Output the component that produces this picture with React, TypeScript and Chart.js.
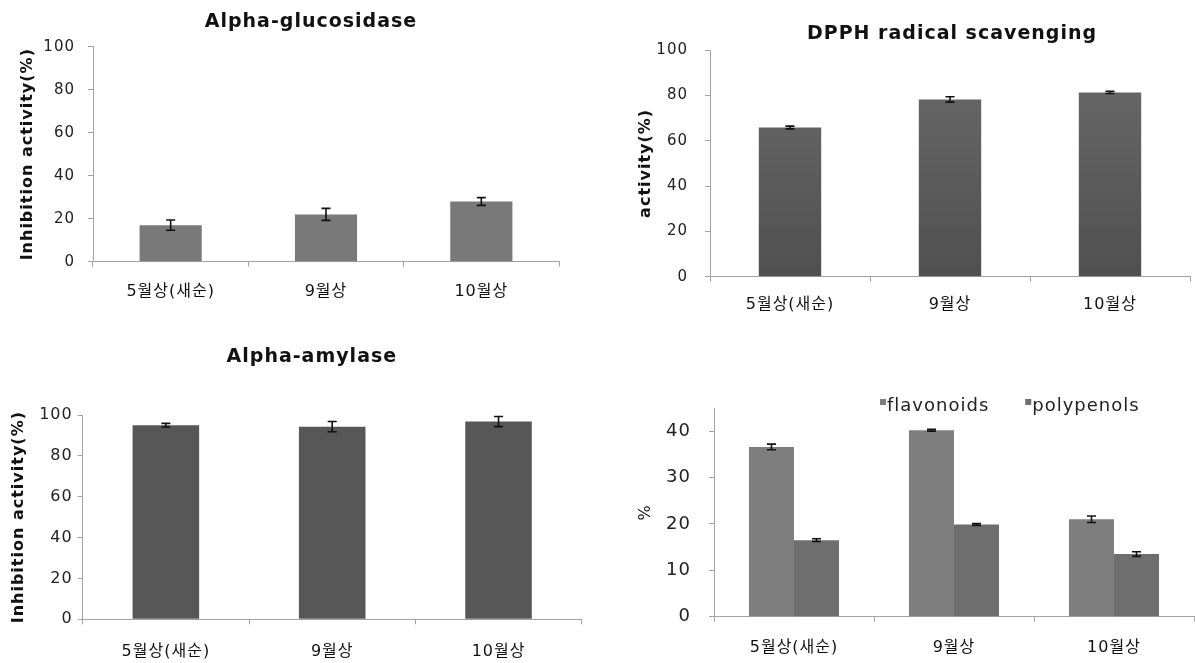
import React, { useEffect, useRef } from "react";
import { Chart, registerables } from "chart.js";

Chart.register(...registerables);

// ---------- data ----------
const categories = ["5월상(새순)", "9월상", "10월상"];

const glucosidaseValues = [17.0, 22.0, 28.0];
const glucosidaseErrors = [2.4, 2.8, 1.8];

const dpphValues = [65.8, 78.2, 81.3];
const dpphErrors = [0.6, 1.2, 0.5];

const amylaseValues = [95.0, 94.3, 96.8];
const amylaseErrors = [0.9, 2.5, 2.5];

const flavonoidValues = [36.6, 40.2, 21.0];
const flavonoidErrors = [0.6, 0.2, 0.7];
const polyphenolValues = [16.5, 19.9, 13.5];
const polyphenolErrors = [0.3, 0.2, 0.5];

const percentTicks = [0, 20, 40, 60, 80, 100];
const contentTicks = [0, 10, 20, 30, 40];

// ---------- style ----------
const FONT = "'DejaVu Sans', 'Noto Sans CJK KR', sans-serif";
const AXIS = "#a3a3a3";

// ---------- plugins ----------
const spacingPlugin = {
  id: "spacing",
  beforeLayout(chart: any) {
    chart.ctx.letterSpacing = "1px";
  },
  beforeDraw(chart: any) {
    chart.ctx.letterSpacing = "1px";
  },
};

const titleShiftPlugin = {
  id: "titleShift",
  afterLayout(chart: any, _args: any, opts: any) {
    const t = chart.titleBlock;
    if (t && opts && opts.dx) {
      t.left += opts.dx;
      t.right += opts.dx;
    }
  },
};

const errorBarPlugin = {
  id: "errorBars",
  afterDatasetsDraw(chart: any) {
    const ctx = chart.ctx;
    const yScale = chart.scales.y;
    chart.data.datasets.forEach((ds: any, i: number) => {
      const errs = ds.errors;
      if (!errs) return;
      const meta = chart.getDatasetMeta(i);
      meta.data.forEach((bar: any, j: number) => {
        const v = ds.data[j];
        const e = errs[j];
        const x = bar.x;
        const yTop = yScale.getPixelForValue(v + e);
        const yBot = yScale.getPixelForValue(v - e);
        ctx.save();
        ctx.strokeStyle = "#111";
        ctx.lineWidth = 1.6;
        ctx.beginPath();
        ctx.moveTo(x, yTop);
        ctx.lineTo(x, yBot);
        ctx.moveTo(x - 4.5, yTop);
        ctx.lineTo(x + 4.5, yTop);
        ctx.moveTo(x - 4.5, yBot);
        ctx.lineTo(x + 4.5, yBot);
        ctx.stroke();
        ctx.restore();
      });
    });
  },
};

const inlineLegendPlugin = {
  id: "inlineLegend",
  afterDraw(chart: any, _args: any, opts: any) {
    if (!opts || !opts.display) return;
    const { ctx, chartArea } = chart;
    ctx.save();
    ctx.letterSpacing = "1px";
    ctx.font = `${opts.fontSize}px ${FONT}`;
    ctx.textBaseline = "middle";
    ctx.textAlign = "left";
    let x = chartArea.left + opts.offsetX;
    const yText = chartArea.top + opts.textOffsetY;
    const yBox = chartArea.top + opts.boxOffsetY;
    chart.data.datasets.forEach((ds: any) => {
      ctx.fillStyle = ds.backgroundColor;
      ctx.fillRect(x, yBox, opts.boxSize, opts.boxSize);
      ctx.fillStyle = "#222";
      ctx.fillText(ds.label, x + opts.boxSize + 1, yText);
      x += opts.boxSize + 1 + ctx.measureText(ds.label).width + opts.gap;
    });
    ctx.restore();
  },
};

function dpphGradient(context: any) {
  const chart = context.chart;
  const area = chart.chartArea;
  if (!area) return "#5e5e5e";
  const g = chart.ctx.createLinearGradient(0, area.top, 0, area.bottom);
  g.addColorStop(0, "#6a6a6a");
  g.addColorStop(1, "#505050");
  return g;
}

// ---------- config builder ----------
function makeConfig(p: any) {
  return {
    type: "bar",
    data: { labels: categories, datasets: p.datasets },
    plugins: [spacingPlugin, titleShiftPlugin, errorBarPlugin, inlineLegendPlugin],
    options: {
      responsive: false,
      animation: false,
      devicePixelRatio: 1,
      events: [],
      layout: { padding: { left: 0, right: p.padRight, top: p.padTop || 0, bottom: 0 } },
      datasets: { bar: { categoryPercentage: p.catPct, barPercentage: p.barPct } },
      plugins: {
        legend: { display: false },
        tooltip: { enabled: false },
        title: p.title
          ? {
              display: true,
              text: p.title,
              color: "#111",
              font: { family: FONT, size: 19, weight: "bold", lineHeight: 1.2 },
              padding: { top: p.titlePadTop, bottom: p.titlePadBottom },
            }
          : { display: false },
        titleShift: { dx: p.titleDx || 0 },
        inlineLegend: p.legend || { display: false },
      },
      scales: {
        x: {
          afterFit: (s: any) => {
            s.height = p.xHeight;
          },
          grid: { drawOnChartArea: false, drawTicks: true, tickLength: 5, color: AXIS, offset: true },
          border: { color: AXIS, width: 1 },
          ticks: {
            color: "#111",
            padding: p.xPad,
            font: { family: FONT, size: p.xFont, lineHeight: 1.2 },
          },
        },
        y: {
          min: 0,
          max: p.yMax,
          afterBuildTicks: (s: any) => {
            s.ticks = p.yTicks.map((v: number) => ({ value: v }));
          },
          afterFit: (s: any) => {
            s.width = p.yWidth;
          },
          grid: { drawOnChartArea: false, drawTicks: true, tickLength: 5, color: AXIS },
          border: { color: AXIS, width: 1 },
          ticks: {
            color: "#222",
            padding: p.yPad,
            font: { family: FONT, size: p.yFont },
          },
          title: {
            display: true,
            text: p.yTitle,
            color: "#111",
            font: { family: FONT, size: 16, weight: p.yTitleWeight, lineHeight: 1.2 },
            padding: { top: p.yTitlePad, bottom: 0 },
          },
        },
      },
    },
  };
}

const specs = [
  {
    left: 0,
    top: 0,
    width: 600,
    height: 320,
    config: makeConfig({
      title: "Alpha-glucosidase",
      titlePadTop: 10.6,
      titlePadBottom: 13.3,
      titleDx: 31.5,
      padRight: 41,
      yWidth: 93,
      xHeight: 58.3,
      xPad: 15.4,
      xFont: 16,
      yPad: 13,
      yFont: 15,
      yMax: 100,
      yTicks: percentTicks,
      yTitle: "Inhibition activity(%)",
      yTitleWeight: "bold",
      yTitlePad: 17.9,
      catPct: 1,
      barPct: 0.4,
      datasets: [
        {
          label: "Alpha-glucosidase",
          data: glucosidaseValues,
          errors: glucosidaseErrors,
          backgroundColor: "#797979",
        },
      ],
    }),
  },
  {
    left: 600,
    top: 0,
    width: 595,
    height: 320,
    config: makeConfig({
      title: "DPPH radical scavenging",
      titlePadTop: 22.6,
      titlePadBottom: 4.6,
      titleDx: 57,
      padRight: 5,
      yWidth: 110,
      xHeight: 43.3,
      xPad: 13.7,
      xFont: 16,
      yPad: 17,
      yFont: 15,
      yMax: 100,
      yTicks: percentTicks,
      yTitle: "activity(%)",
      yTitleWeight: "bold",
      yTitlePad: 36.4,
      catPct: 1,
      barPct: 0.39,
      datasets: [
        {
          label: "DPPH radical scavenging",
          data: dpphValues,
          errors: dpphErrors,
          backgroundColor: dpphGradient,
        },
      ],
    }),
  },
  {
    left: 0,
    top: 320,
    width: 600,
    height: 343,
    config: makeConfig({
      title: "Alpha-amylase",
      titlePadTop: 25.8,
      titlePadBottom: 46.4,
      titleDx: 21,
      padRight: 18.3,
      yWidth: 82.7,
      xHeight: 43.7,
      xPad: 17.8,
      xFont: 16,
      yPad: 5,
      yFont: 16,
      yMax: 100,
      yTicks: percentTicks,
      yTitle: "Inhibition activity(%)",
      yTitleWeight: "bold",
      yTitlePad: 9.4,
      catPct: 1,
      barPct: 0.4,
      datasets: [
        {
          label: "Alpha-amylase",
          data: amylaseValues,
          errors: amylaseErrors,
          backgroundColor: "#575757",
        },
      ],
    }),
  },
  {
    left: 600,
    top: 320,
    width: 595,
    height: 343,
    config: makeConfig({
      padTop: 88,
      padRight: 1,
      yWidth: 114,
      xHeight: 46.3,
      xPad: 16.7,
      xFont: 16,
      yPad: 18,
      yFont: 18,
      yMax: 45,
      yTicks: contentTicks,
      yTitle: "%",
      yTitleWeight: "normal",
      yTitlePad: 36,
      catPct: 0.5625,
      barPct: 1,
      legend: {
        display: true,
        fontSize: 18,
        offsetX: 166,
        boxOffsetY: -9,
        boxSize: 6,
        textOffsetY: -1.5,
        gap: 36,
      },
      datasets: [
        {
          label: "flavonoids",
          data: flavonoidValues,
          errors: flavonoidErrors,
          backgroundColor: "#7e7e7e",
        },
        {
          label: "polypenols",
          data: polyphenolValues,
          errors: polyphenolErrors,
          backgroundColor: "#6e6e6e",
        },
      ],
    }),
  },
];

function ChartCanvas(props: any) {
  const ref = useRef<HTMLCanvasElement>(null);
  useEffect(() => {
    const chart = new Chart(ref.current as HTMLCanvasElement, props.config);
    return () => chart.destroy();
  }, []);
  return (
    <div
      style={{
        position: "absolute",
        left: props.left,
        top: props.top,
        width: props.width,
        height: props.height,
      }}
    >
      <canvas
        ref={ref}
        width={props.width}
        height={props.height}
        style={{ display: "block", width: props.width, height: props.height }}
      />
    </div>
  );
}

export default function App() {
  return (
    <div
      style={{
        position: "absolute",
        left: 0,
        top: 0,
        width: 1195,
        height: 663,
        background: "#ffffff",
        overflow: "hidden",
      }}
    >
      {specs.map((s, i) => (
        <ChartCanvas key={i} {...s} />
      ))}
    </div>
  );
}
